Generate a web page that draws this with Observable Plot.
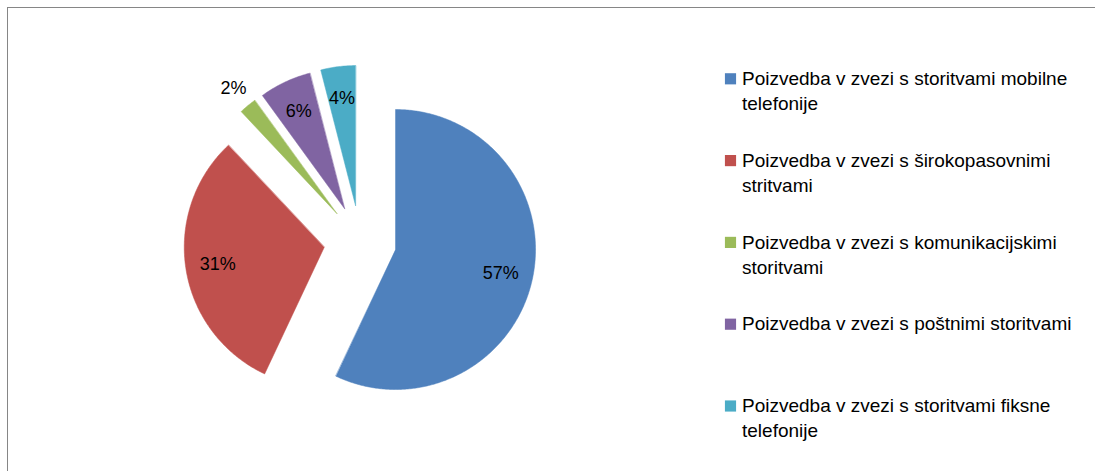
<!DOCTYPE html>
<html>
<head>
<meta charset="utf-8">
<script src="https://cdn.jsdelivr.net/npm/d3@7"></script>
<script src="https://cdn.jsdelivr.net/npm/@observablehq/plot@0.6"></script>
<style>
  html, body { margin: 0; padding: 0; overflow: hidden; background: #fff; }
  #frame { position: absolute; left: 7px; top: 7px; width: 1200px; height: 600px;
           border-left: 1px solid #868686; border-top: 1px solid #868686; }
  #chart { position: absolute; left: 0; top: 0; }
</style>
</head>
<body>
<div id="frame"></div>
<div id="chart"></div>
<script>
// ---- data ----
const categories = [
  "Poizvedba v zvezi s storitvami mobilne\ntelefonije",
  "Poizvedba v zvezi s širokopasovnimi\nstritvami",
  "Poizvedba v zvezi s komunikacijskimi\nstoritvami",
  "Poizvedba v zvezi s poštnimi storitvami",
  "Poizvedba v zvezi s storitvami fiksne\ntelefonije"
];
const shares = [57, 31, 2, 6, 4];
const shareLabels = ["57%", "31%", "2%", "6%", "4%"];
const palette = ["#4F81BD", "#C0504D", "#9BBB59", "#8064A2", "#4BACC6"];

// ---- layout (pixel units, identity scales) ----
const W = 1095, H = 471;
const cx = 359.6, cy = 241.1, R = 140, explode = 36.3;
const pt = (a, r, ox, oy) => [ox + r * Math.sin(a), oy - r * Math.cos(a)];

const arcs = d3.pie().sort(null).value(d => d)(shares);
const polys = [];
const labelPts = [];
arcs.forEach((a, i) => {
  const mid = (a.startAngle + a.endAngle) / 2;
  const [ax, ay] = pt(mid, explode, cx, cy);
  polys.push({cat: categories[i], x: ax, y: ay});
  const n = Math.max(2, Math.ceil((a.endAngle - a.startAngle) / 0.01));
  for (let k = 0; k <= n; k++) {
    const t = a.startAngle + (a.endAngle - a.startAngle) * k / n;
    const [x, y] = pt(t, R, ax, ay);
    polys.push({cat: categories[i], x, y});
  }
  const outside = shares[i] < 3;
  const [lx, ly] = pt(mid, R * (outside ? 1.16 : 0.77), ax, ay);
  labelPts.push({x: lx, y: ly, text: shareLabels[i]});
});

const legendX = 730, legendTextX = 741.5, legendY0 = 78.3, legendStep = 81.8;
const legend = categories.map((c, i) => ({cat: c, x: legendX, tx: legendTextX, y: legendY0 + i * legendStep}));

const chart = Plot.plot({
  width: W, height: H, margin: 0,
  style: {fontFamily: "'Liberation Sans', Arial, sans-serif", background: "transparent"},
  x: {domain: [0, W], range: [0, W], axis: null},
  y: {domain: [0, H], range: [0, H], axis: null},
  color: {domain: categories, range: palette},
  marks: [
    Plot.line(polys, {x: "x", y: "y", z: "cat", fill: "cat", stroke: "cat", strokeWidth: 0.5, curve: "linear-closed"}),
    Plot.text(labelPts, {x: "x", y: "y", text: "text", fontSize: 18, fill: "#000"}),
    Plot.dot(legend, {x: "x", y: "y", fill: "cat", symbol: "square", r: 6.3, stroke: null}),
    Plot.text(legend, {x: "tx", y: d => d.y - 11.5, text: "cat", textAnchor: "start", lineAnchor: "top",
                       fontSize: 19, lineHeight: 1.32, fill: "#000"})
  ]
});
document.getElementById("chart").appendChild(chart);
</script>
</body>
</html>
